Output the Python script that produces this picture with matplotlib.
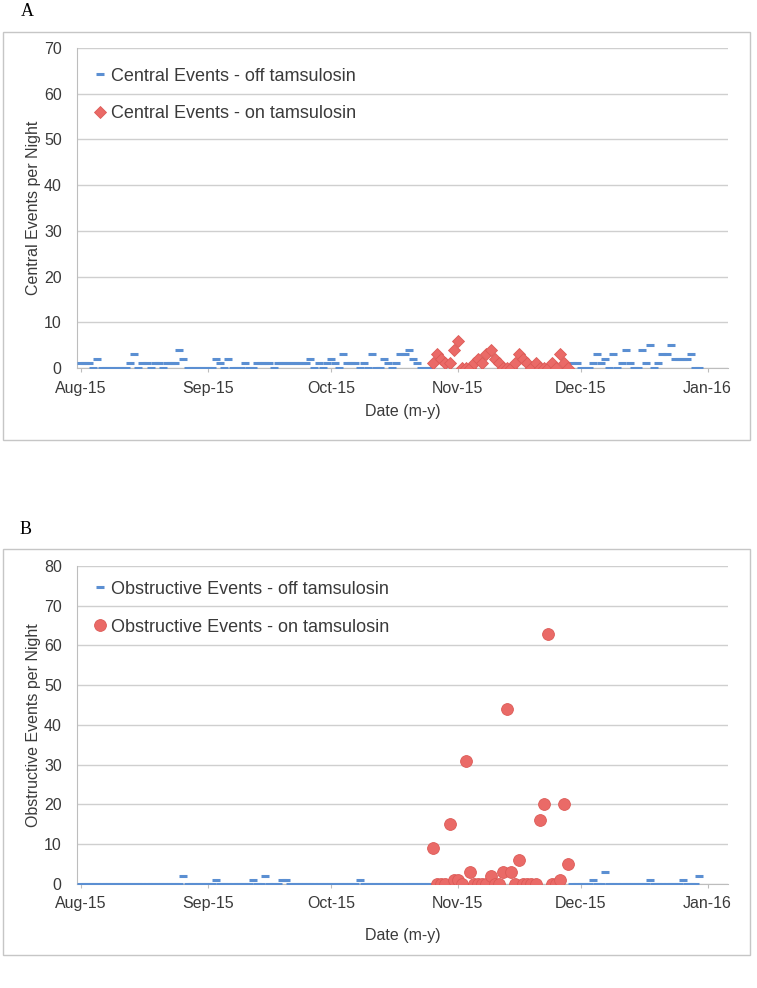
import numpy as np
import matplotlib
matplotlib.use('Agg')
import matplotlib.pyplot as plt
import matplotlib.dates as mdates
from matplotlib.patches import Rectangle

##############################################################################

# nightly counts, one value per night starting at the given date
off_start_1 = '2015-08-01'
on_start = '2015-10-26'
off_start_2 = '2015-11-29'

central_off_1 = [1, 1, 1, 0, 2, 0, 0, 0, 0, 0,
                 0, 0, 1, 3, 0, 1, 1, 0, 1, 1,
                 0, 1, 1, 1, 4, 2, 0, 0, 0, 0,
                 0, 0, 0, 2, 1, 0, 2, 0, 0, 0,
                 1, 0, 0, 1, 1, 1, 1, 0, 1, 1,
                 1, 1, 1, 1, 1, 1, 2, 0, 1, 0,
                 1, 2, 1, 0, 3, 1, 1, 1, 0, 1,
                 0, 3, 0, 0, 2, 1, 0, 1, 3, 3,
                 4, 2, 1, 0, 0, 0]
central_on = [1, 3, 2, 1, 1, 4, 6, 0, 0, 0,
              1, 2, 1, 3, 4, 2, 1, 0, 0, 0,
              1, 3, 2, 1, 0, 1, 0, 0, 0, 1,
              0, 3, 1, 0]
central_off_2 = [1, 1, 0, 0, 0, 1, 3, 1, 2, 0,
                 3, 0, 1, 4, 1, 0, 0, 4, 1, 5,
                 0, 1, 3, 3, 5, 2, 2, 2, 2, 3,
                 0, 0]

obstructive_off_1 = [0, 0, 0, 0, 0, 0, 0, 0, 0, 0,
                     0, 0, 0, 0, 0, 0, 0, 0, 0, 0,
                     0, 0, 0, 0, 0, 2, 0, 0, 0, 0,
                     0, 0, 0, 1, 0, 0, 0, 0, 0, 0,
                     0, 0, 1, 0, 0, 2, 0, 0, 0, 1,
                     1, 0, 0, 0, 0, 0, 0, 0, 0, 0,
                     0, 0, 0, 0, 0, 0, 0, 0, 1, 0,
                     0, 0, 0, 0, 0, 0, 0, 0, 0, 0,
                     0, 0, 0, 0, 0, 0]
obstructive_on = [9, 0, 0, 0, 15, 1, 1, 0, 31, 3,
                  0, 0, 0, 0, 2, 0, 0, 3, 44, 3,
                  0, 6, 0, 0, 0, 0, 16, 20, 63, 0,
                  0, 1, 20, 5]
obstructive_off_2 = [0, 0, 0, 0, 0, 1, 0, 0, 3, 0,
                     0, 0, 0, 0, 0, 0, 0, 0, 0, 1,
                     0, 0, 0, 0, 0, 0, 0, 1, 0, 0,
                     0, 2]

month_ticks = ['2015-08-01', '2015-09-01', '2015-10-01',
               '2015-11-01', '2015-12-01', '2016-01-01']

##############################################################################

def nights(start, values):
    return np.datetime64(start) + np.arange(len(values))

plt.rcParams['font.family'] = ['Liberation Sans', 'DejaVu Sans']
text_col = '#3a3a3a'
blue = '#5b8fd2'
red = '#ea6a67'

fig = plt.figure(figsize=(7.57, 9.88), dpi=100)

def panel(rect, off1, on, off2, ymax, ylabel, names, on_marker, on_size,
          leg_y, xpad):
    ax = fig.add_axes(rect)
    x_off = np.concatenate([nights(off_start_1, off1), nights(off_start_2, off2)])
    y_off = list(off1) + list(off2)
    ax.plot(x_off, y_off, ls='none', marker='_', ms=5.5, mew=2.2,
            color=blue, label=names[0], zorder=3)
    ax.plot(nights(on_start, on), on, ls='none', marker=on_marker,
            ms=on_size, mfc=red, mec='#dc5a56', mew=0.6,
            label=names[1], zorder=4)
    ax.set_xlim(np.datetime64('2015-07-31'), np.datetime64('2016-01-06'))
    ax.set_ylim(0, ymax)
    ax.set_yticks(range(0, ymax + 1, 10))
    ax.set_xticks([np.datetime64(d) for d in month_ticks])
    ax.xaxis.set_major_formatter(mdates.DateFormatter('%b-%y'))
    ax.grid(axis='y', color='#cfcfcf', lw=1)
    ax.set_axisbelow(True)
    for s in ['top', 'right']:
        ax.spines[s].set_visible(False)
    for s in ['left', 'bottom']:
        ax.spines[s].set_color('#bdbdbd')
    ax.tick_params(axis='y', length=0, pad=11, labelsize=11.5, labelcolor=text_col)
    ax.tick_params(axis='x', length=3, color='#bdbdbd', pad=6,
                   labelsize=11.5, labelcolor=text_col)
    ax.set_xlabel('Date (m-y)', fontsize=11.5, color=text_col, labelpad=xpad)
    ax.set_ylabel(ylabel, fontsize=11.5, color=text_col, labelpad=2)
    ax.legend(loc='upper left', bbox_to_anchor=(0.0, leg_y), frameon=False,
              fontsize=13, handlelength=0.6, handletextpad=0.3,
              labelspacing=1.15, labelcolor=text_col, borderaxespad=0.6)
    return ax

axA = panel([0.1017, 0.6275, 0.86, 0.3239], central_off_1, central_on,
            central_off_2, 70, 'Central Events per Night',
            ['Central Events - off tamsulosin', 'Central Events - on tamsulosin'],
            'D', 5.8, 0.995, 6)
axB = panel([0.1017, 0.1053, 0.86, 0.3219], obstructive_off_1, obstructive_on,
            obstructive_off_2, 80, 'Obstructive Events per Night',
            ['Obstructive Events - off tamsulosin', 'Obstructive Events - on tamsulosin'],
            'o', 8.5, 1.01, 12)

# chart boxes
for top, bot in [(32, 440), (549, 955)]:
    fig.patches.append(Rectangle((3 / 757, 1 - bot / 988), 747 / 757,
                                 (bot - top) / 988, transform=fig.transFigure,
                                 fill=False, ec='#c6c6c6', lw=1))

fig.text(27 / 757, 1 - 11 / 988, 'A', family='Liberation Serif', fontsize=13,
         ha='center', va='center')
fig.text(26 / 757, 1 - 529 / 988, 'B', family='Liberation Serif', fontsize=13,
         ha='center', va='center')

fig.savefig('out.png', dpi=100)
